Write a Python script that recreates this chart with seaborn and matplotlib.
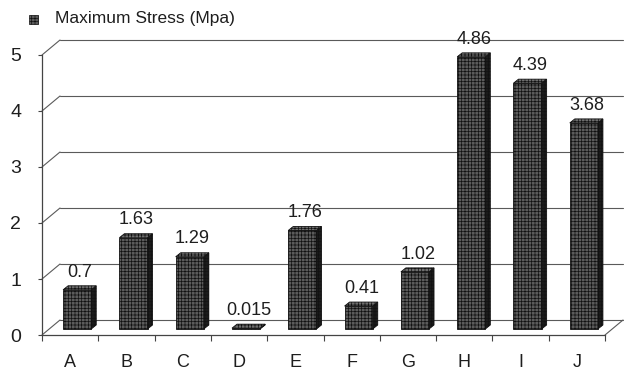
import matplotlib
matplotlib.use("Agg")
import matplotlib.pyplot as plt
import matplotlib.transforms as mtransforms
from matplotlib.patches import Polygon, Rectangle
from matplotlib.ticker import FixedLocator
import seaborn as sns
import pandas as pd

# ---- data ----
categories = ["A", "B", "C", "D", "E", "F", "G", "H", "I", "J"]
stress = [0.7, 1.63, 1.29, 0.015, 1.76, 0.41, 1.02, 4.86, 4.39, 3.68]
value_labels = ["0.7", "1.63", "1.29", "0.015", "1.76", "0.41", "1.02", "4.86", "4.39", "3.68"]
y_ticks = [0, 1, 2, 3, 4, 5]
series_name = "Maximum Stress (Mpa)"

sns.set_theme(style="white")
plt.rcParams["font.family"] = ["Liberation Sans", "DejaVu Sans"]
plt.rcParams["hatch.linewidth"] = 0.5

W, H, DPI = 629, 371, 100
fig = plt.figure(figsize=(W / DPI, H / DPI), dpi=DPI)
fig.patch.set_facecolor("white")
ax = fig.add_axes([42 / W, 1 - 335 / H, (605 - 42) / W, (335 - 55) / H])

TEXT = "#1e1e1e"
GRID = "#5a5a5a"
FRONT = "#5c5c5c"
SIDE = "#1c1c1c"
TOP = "#6e6e6e"
EDGE = "#111111"

df = pd.DataFrame({"sample": categories, "stress": stress})
sns.barplot(data=df, x="sample", y="stress", ax=ax, width=0.5, color=FRONT,
            saturation=1, edgecolor=EDGE, linewidth=0.6, hatch="+++++",
            errorbar=None, zorder=3)

ax.set_xlim(-0.5, len(categories) - 0.5)
ax.set_ylim(0, 5)
ax.set_xlabel("")
ax.set_ylabel("")
ax.set_facecolor("none")

# pixel offsets for the 3-D look
WALL_DX, WALL_DY = 18, 15      # back wall depth
BAR_DX, BAR_DY = 7, 6          # bar sits mid-depth
SIDE_DX, SIDE_DY = 5, 4        # bar thickness

to_disp = ax.transData.transform
to_data = ax.transData.inverted().transform


def shift(pt, dx, dy):
    x, y = to_disp(pt)
    return tuple(to_data((x + dx, y + dy)))


# back wall grid lines and their connectors to the front axis
x_lo, x_hi = ax.get_xlim()
for v in y_ticks:
    a = shift((x_lo, v), WALL_DX, WALL_DY)
    b = shift((x_hi, v), WALL_DX, WALL_DY)
    ax.plot([a[0], b[0]], [a[1], b[1]], color=GRID, lw=0.8, clip_on=False, zorder=1)
    ax.plot([x_lo, a[0]], [v, a[1]], color=GRID, lw=0.8, clip_on=False, zorder=1)
# right edge of the floor
c = shift((x_hi, 0), WALL_DX, WALL_DY)
ax.plot([x_hi, c[0]], [0, c[1]], color=GRID, lw=0.8, clip_on=False, zorder=1)

# 3-D boxes built from the seaborn bar patches
bar_shift = mtransforms.ScaledTranslation(BAR_DX / DPI, BAR_DY / DPI, fig.dpi_scale_trans)
for patch, lab in zip(ax.patches, value_labels):
    x0 = patch.get_x()
    w = patch.get_width()
    h = patch.get_height()
    x1 = x0 + w
    patch.set_transform(ax.transData + bar_shift)

    fb = shift((x1, 0), BAR_DX, BAR_DY)
    ft = shift((x1, h), BAR_DX, BAR_DY)
    lt = shift((x0, h), BAR_DX, BAR_DY)
    side = [fb, shift(fb, SIDE_DX, SIDE_DY), shift(ft, SIDE_DX, SIDE_DY), ft]
    top = [lt, ft, shift(ft, SIDE_DX, SIDE_DY), shift(lt, SIDE_DX, SIDE_DY)]
    ax.add_patch(Polygon(side, closed=True, facecolor=SIDE, edgecolor=EDGE,
                         lw=0.6, hatch="+++++", zorder=3, clip_on=False))
    ax.add_patch(Polygon(top, closed=True, facecolor=TOP, edgecolor=EDGE,
                         lw=0.6, hatch="+++++", zorder=3, clip_on=False))

    ax.annotate(lab, xy=(x0 + w / 2, h), xytext=(7, 11), textcoords="offset points",
                ha="center", va="bottom", fontsize=13, color=TEXT, zorder=5,
                annotation_clip=False)

# axes styling
for s in ("top", "right"):
    ax.spines[s].set_visible(False)
for s in ("left", "bottom"):
    ax.spines[s].set_color("#444444")
    ax.spines[s].set_linewidth(0.9)

ax.set_yticks(y_ticks)
ax.set_yticklabels([str(t) for t in y_ticks], fontsize=14, color=TEXT)
ax.tick_params(axis="y", length=3, width=0.8, color="#444444", pad=12, left=True)
ax.xaxis.set_minor_locator(FixedLocator([i - 0.5 for i in range(len(categories) + 1)]))
ax.tick_params(axis="x", which="major", length=0, pad=14, labelsize=13, labelcolor=TEXT)
ax.tick_params(axis="x", which="minor", length=4, width=0.8, color="#444444", bottom=True)

# legend key
fig.patches.append(Rectangle((29 / W, 1 - 24 / H), 9 / W, 9 / H, transform=fig.transFigure,
                             facecolor=FRONT, edgecolor=EDGE, lw=0.5, hatch="+++++"))
fig.text(55 / W, 1 - 19 / H, series_name, fontsize=12.5, color=TEXT, va="center", ha="left")

fig.savefig("out.png", dpi=DPI, facecolor="white")
